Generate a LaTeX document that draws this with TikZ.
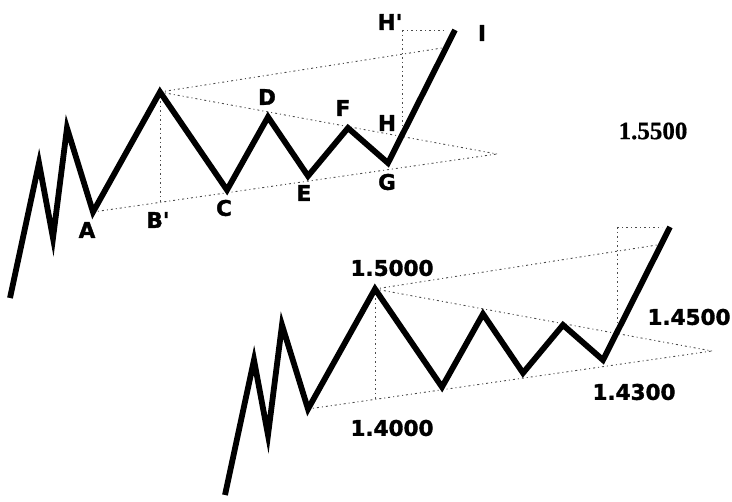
\documentclass[tikz,border=0pt]{standalone}
\usepackage{fontspec}
\newfontfamily\lblfont[FakeBold=1.6]{DejaVu Sans Bold}
\newfontfamily\serffont[FakeBold=0.6]{Liberation Serif Bold}
\tikzset{
  wave/.style={line width=5.8pt, line join=miter, miter limit=10, black},
  guide/.style={line width=0.9pt, black!70, dash pattern=on 2pt off 3pt on 1pt off 3pt},
  lbl/.style={font=\lblfont\fontsize{21.5}{21.5}\selectfont, inner sep=0pt},
  serlbl/.style={font=\serffont\fontsize{25}{25}\selectfont, inner sep=0pt}
}
\newcommand\wavechart[1]{%
  \coordinate (#1s) at (10,298);
  \coordinate (#1p1) at (39,163);
  \coordinate (#1t1) at (53,238);
  \coordinate (#1p2) at (67,128);
  \coordinate (#1A) at (93,212);
  \coordinate (#1B) at (160,92);
  \coordinate (#1C) at (227,190);
  \coordinate (#1D) at (268,117);
  \coordinate (#1E) at (308,176);
  \coordinate (#1F) at (348,128);
  \coordinate (#1G) at (388,163);
  \coordinate (#1I) at (455,30);
  \coordinate (#1X) at (497,154);
  \coordinate (#1U) at (442,48);
  \coordinate (#1Bp) at (160,204);
  \coordinate (#1Hp) at (402,30);
  \coordinate (#1H) at (402,136);
  \coordinate (#1Hr) at (447,30);
  \draw[guide] (#1A) -- (#1X);
  \draw[guide] (#1B) -- (#1X);
  \draw[guide] (#1B) -- (#1U);
  \draw[guide] (#1B) -- (#1Bp);
  \draw[guide] (#1Hp) -- (#1H);
  \draw[guide] (#1Hp) -- (#1Hr);
  \draw[wave] (#1s) -- (#1p1) -- (#1t1) -- (#1p2) -- (#1A) -- (#1B) -- (#1C) -- (#1D) -- (#1E) -- (#1F) -- (#1G) -- (#1I);
}
\begin{document}
\begin{tikzpicture}[x=1pt,y=-1pt]
\useasboundingbox (0,0) rectangle (732,502);
\wavechart{t}
\begin{scope}[shift={(215,197)}]
\wavechart{b}
\end{scope}
% top labels
\node[lbl] (la) at (87,230) {A};
\node[lbl] (lbp) at (158,220) {B'};
\node[lbl] (lc) at (224,208) {C};
\node[lbl] (ld) at (267,97) {D};
\node[lbl] (le) at (304,193) {E};
\node[lbl] (lf) at (343,108) {F};
\node[lbl] (lg) at (387,182) {G};
\node[lbl] (lh) at (387,123) {H};
\node[lbl] (lhp) at (390,22) {H'};
\node[lbl] (li) at (482,33) {I};
\node[serlbl] (l155) at (653,131) {1.5500};
% bottom labels
\node[lbl] (l150) at (392,268) {1.5000};
\node[lbl] (l140) at (392,428) {1.4000};
\node[lbl] (l143) at (634,392) {1.4300};
\node[lbl] (l145) at (689,317) {1.4500};
\end{tikzpicture}
\end{document}
